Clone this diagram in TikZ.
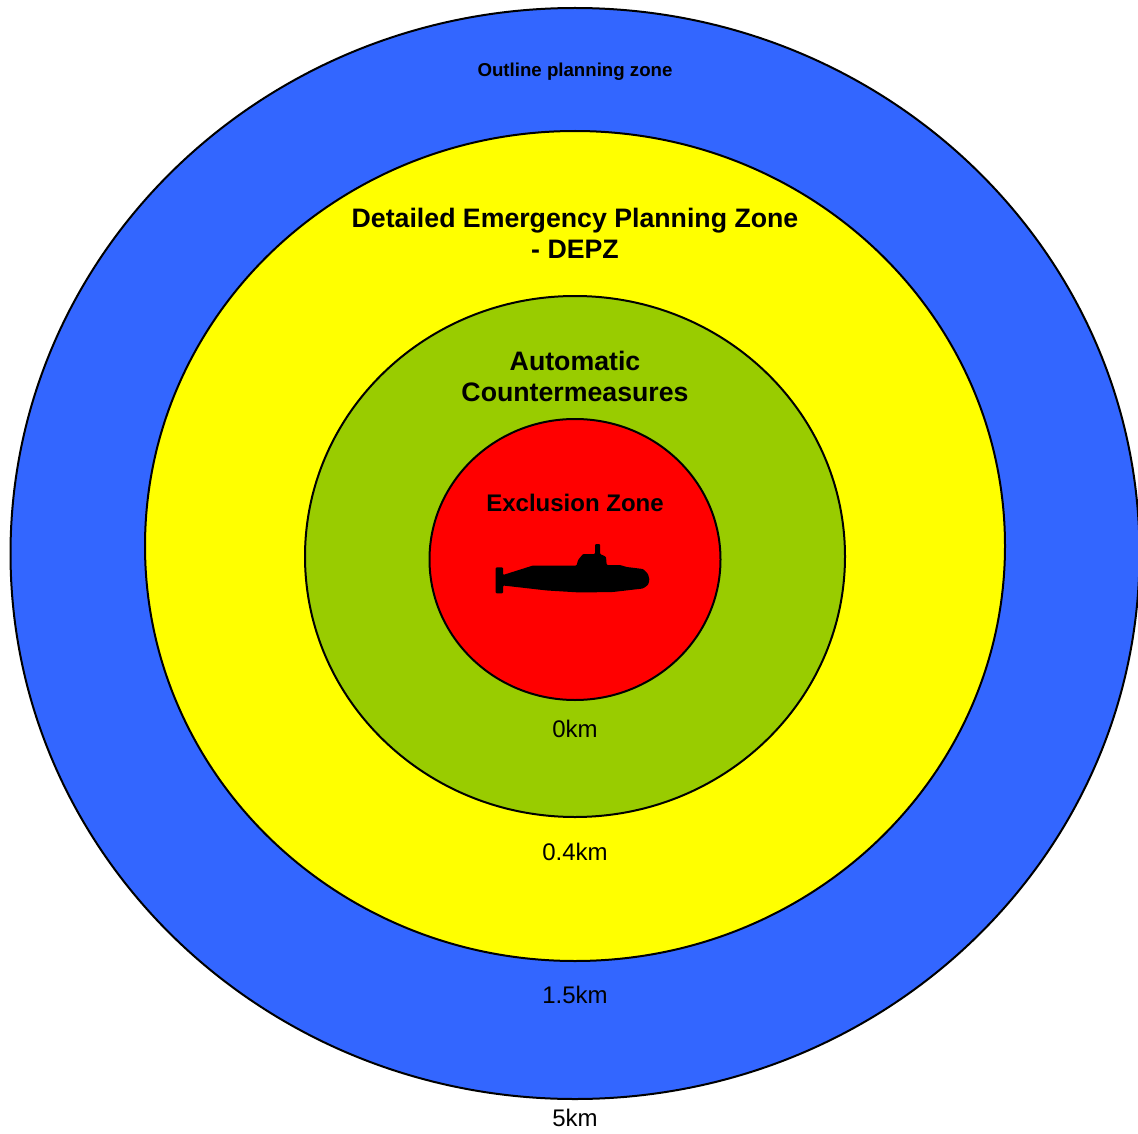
\documentclass[tikz,border=0pt]{standalone}
\usepackage{fontspec}
\setmainfont{Liberation Sans}
\definecolor{zoneblue}{RGB}{51,102,255}
\definecolor{zoneyellow}{RGB}{255,255,0}
\definecolor{zonegreen}{RGB}{153,204,0}
\definecolor{zonered}{RGB}{255,0,0}
\tikzset{
 zone/.style={draw=black,line width=2pt},
 lab/.style={align=center,inner sep=0pt,font=\fontsize{24}{28}\selectfont},
 big/.style={align=center,inner sep=0pt,font=\bfseries\fontsize{26.7}{31}\selectfont},
}
\begin{document}
\begin{tikzpicture}[x=1pt,y=-1pt]
\useasboundingbox (0,0) rectangle (1138,1134);
\fill[white] (0,0) rectangle (1138,1134);
\begin{scope}
\clip (0,0) rectangle (1138,1134);
\draw[zone,fill=zoneblue] (575,553.5) ellipse [x radius=564.5,y radius=545.5];
\draw[zone,fill=zoneyellow] (575,546) ellipse [x radius=430,y radius=415];
\draw[zone,fill=zonegreen] (575,556.5) ellipse [x radius=270,y radius=260.5];
\draw[zone,fill=zonered] (575,559.5) ellipse [x radius=145.5,y radius=140.5];
\end{scope}
\fill[black,rounded corners=1pt] (495.7,567.3) -- (503,567.3) -- (503,575) -- (533,565.5) -- (576.7,565.5) -- (578,560) -- (583,554) -- (595,554) -- (595,544) -- (600,544) -- (600,554) -- (606,556.7) -- (606.7,565) -- (620,565) -- (626.7,567) -- (643,569) -- (648,574) -- (649.5,580) -- (648,585) -- (643,588.5) -- (613,592) -- (580,592.5) -- (547,590.5) -- (503,585.5) -- (503,593.3) -- (495.7,593.3) -- cycle;
\node[inner sep=0pt,font=\bfseries\fontsize{18.67}{22}\selectfont] (outline) at (575,72) {Outline planning zone};
\node[big] (depz) at (575,233.5) {Detailed Emergency Planning Zone\\- DEPZ};
\node[big] (auto) at (575,376.5) {Automatic\\Countermeasures};
\node[inner sep=0pt,font=\bfseries\fontsize{24}{28}\selectfont] (excl) at (575,503) {Exclusion Zone};
\node[lab] (k0) at (575,729) {0km};
\node[lab] (k04) at (575,852) {0.4km};
\node[lab] (k15) at (575,995) {1.5km};
\node[lab] (k5) at (575,1118) {5km};
\end{tikzpicture}
\end{document}
